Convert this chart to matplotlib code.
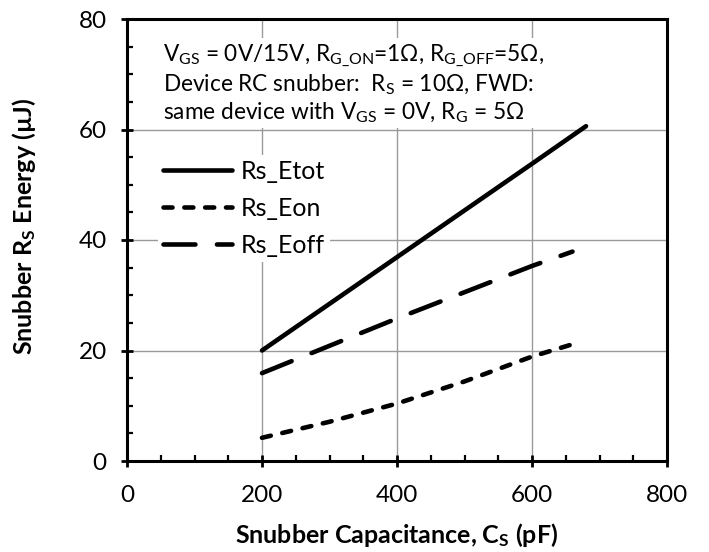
import matplotlib
matplotlib.use("Agg")
import matplotlib.pyplot as plt
from matplotlib.ticker import MultipleLocator

# ----------------------------------------------------
# Data (C in pF, E in uJ)
# ----------------------------------------------------
cs_etot = [200, 400, 600, 680]
etot = [20.0, 36.9, 53.8, 60.6]

cs_eon = [200, 300, 400, 500, 600, 670]
eon = [4.2, 7.1, 10.4, 14.4, 18.9, 21.5]

cs_eoff = [200, 400, 600, 660]
eoff = [15.9, 25.8, 35.3, 37.9]

x_ticks = [0, 200, 400, 600, 800]
y_ticks = [0, 20, 40, 60, 80]

# ----------------------------------------------------
# Style
# ----------------------------------------------------
plt.rcParams['font.family'] = ['Lato', 'DejaVu Sans']
plt.rcParams['mathtext.fontset'] = 'custom'
plt.rcParams['mathtext.rm'] = 'Lato'
plt.rcParams['mathtext.it'] = 'Lato:italic'
plt.rcParams['mathtext.bf'] = 'Lato:bold'
plt.rcParams['lines.scale_dashes'] = False

fig = plt.figure(figsize=(7.09, 5.52), dpi=100)
ax = fig.add_axes([127/709, 1 - 461/552, 540/709, 442/552])

lw = 3.3
ax.plot(cs_etot, etot, color="black", lw=lw, solid_capstyle="round",
        label="Rs_Etot")
ax.plot(cs_eon, eon, color="black", lw=lw, dashes=(6.5, 8.5),
        dash_capstyle="round", label="Rs_Eon")
ax.plot(cs_eoff, eoff, color="black", lw=lw, dashes=(23.0, 15.5),
        dash_capstyle="round", label="Rs_Eoff")

ax.set_xlim(0, 800)
ax.set_ylim(0, 80)
ax.set_xticks(x_ticks)
ax.set_yticks(y_ticks)
ax.xaxis.set_minor_locator(MultipleLocator(50))
ax.yaxis.set_minor_locator(MultipleLocator(5))

ax.grid(True, which="major", color="#9a9a9a", lw=1.0)
ax.set_axisbelow(True)

for s in ax.spines.values():
    s.set_linewidth(2.2)

ax.tick_params(which="major", direction="inout", length=9, width=2.0,
               labelsize=17.5)
ax.tick_params(axis="x", which="major", pad=13)
ax.tick_params(axis="y", which="major", pad=10)
ax.tick_params(which="minor", direction="in", length=4.5, width=1.6)

ax.set_xlabel(r"Snubber Capacitance, C$_\mathbf{S}$ (pF)", fontsize=18,
              fontweight="bold")
ax.set_ylabel(r"Snubber R$_\mathbf{S}$ Energy (µJ)", fontsize=18,
              fontweight="bold")
ax.xaxis.set_label_coords(0.5, -0.135)
ax.yaxis.set_label_coords(-0.165, 0.53)

note = ("V$_{\\mathrm{GS}}$ = 0V/15V, R$_{\\mathrm{G\\_ON}}$=1Ω, "
        "R$_{\\mathrm{G\\_OFF}}$=5Ω,\n"
        "Device RC snubber:  R$_{\\mathrm{S}}$ = 10Ω, FWD:\n"
        "same device with V$_{\\mathrm{GS}}$ = 0V, R$_{\\mathrm{G}}$ = 5Ω")
ax.text(0.067, 0.947, note, transform=ax.transAxes, fontsize=16.3,
        va="top", ha="left", linespacing=1.2,
        bbox=dict(facecolor="white", edgecolor="none", pad=2))

leg = ax.legend(loc="upper left", bbox_to_anchor=(0.058, 0.692),
                fontsize=18, frameon=True, handlelength=2.75,
                handletextpad=0.35, labelspacing=0.55, borderpad=0.2,
                borderaxespad=0)
leg.get_frame().set_edgecolor("none")
leg.get_frame().set_facecolor("white")
leg.get_frame().set_alpha(1)

fig.savefig("out.png", dpi=100)
